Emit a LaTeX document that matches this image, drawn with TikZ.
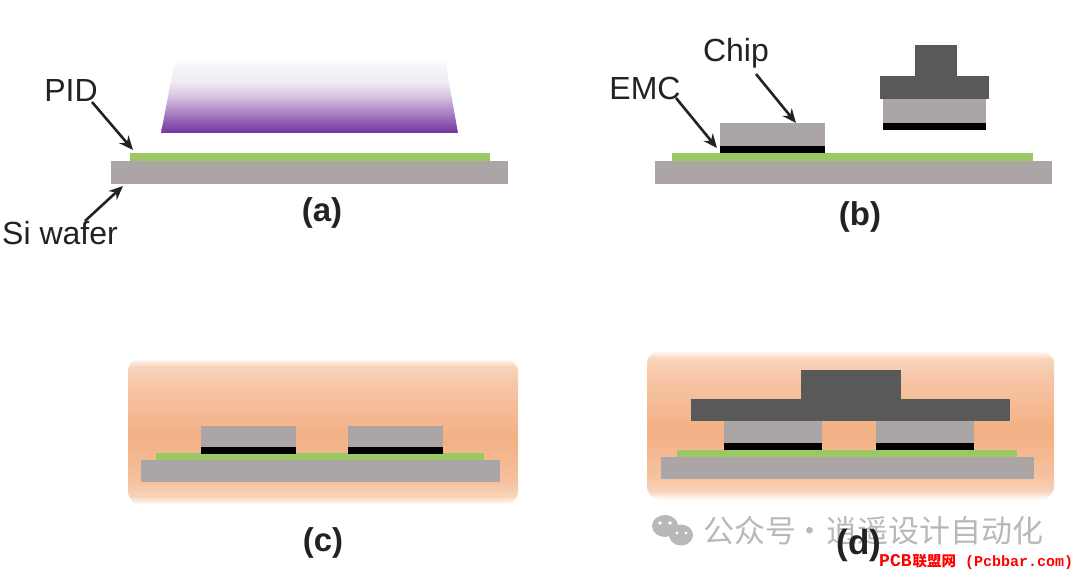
\documentclass[tikz,border=0pt]{standalone}
\usepackage{fontspec}
\setmainfont{Liberation Sans}
\newfontfamily\cjkfont{Noto Sans CJK SC}
\newfontfamily\monofont{Liberation Mono}
\usetikzlibrary{arrows.meta}
\definecolor{waferc}{HTML}{ABA6A5}
\definecolor{pidc}{HTML}{9CC863}
\definecolor{darkc}{HTML}{595959}
\definecolor{purplec}{HTML}{7434A0}
\definecolor{markc}{HTML}{B8B8B8}
\definecolor{moldc}{HTML}{F3B084}
\definecolor{labelc}{HTML}{222222}
\pgfdeclareverticalshading{exposefade}{100bp}{color(0bp)=(purplec); color(25bp)=(purplec);
  color(36bp)=(purplec!70!white); color(50bp)=(purplec!30!white); color(60bp)=(purplec!10!white);
  color(70bp)=(black!4!white); color(75bp)=(white); color(100bp)=(white)}
\pgfdeclareverticalshading{moldfade}{100bp}{color(0bp)=(white); color(25bp)=(white);
  color(28bp)=(moldc!55!white); color(33bp)=(moldc!78!white); color(48bp)=(moldc);
  color(66bp)=(moldc!72!white); color(72bp)=(moldc!55!white); color(75bp)=(white); color(100bp)=(white)}
\tikzset{
  wafer/.style={fill=waferc},
  pid/.style={fill=pidc},
  chipbody/.style={fill=waferc},
  bump/.style={fill=black},
  rdl/.style={fill=darkc},
  mold/.style={shading=moldfade, rounded corners=14pt},
  label/.style={font=\fontsize{32}{34}\selectfont, inner sep=0pt, text=labelc},
  step label/.style={font=\fontsize{33}{35}\selectfont\bfseries, inner sep=0pt, text=labelc},
  pointer/.style={-{Stealth[length=14pt,width=12pt]}, line width=2.6pt, labelc}
}
\begin{document}
\begin{tikzpicture}[x=1pt, y=-1pt]
  \useasboundingbox (0,0) rectangle (1080,575);

  % (a)
  \shade[shading=exposefade] (175,60) -- (445,60) -- (458,133) -- (161,133) -- cycle;
  \fill[pid] (130,153) rectangle (490,161);
  \fill[wafer] (111,161) rectangle (508,184);
  \node (PID) [label] at (71,90) {PID};
  \node (Si) [label] at (60,233) {Si wafer};
  \node (LA) [step label] at (322,213) {(a)};
  \coordinate (PIDend) at (133,150);
  \coordinate (Siend) at (123,186);
  \coordinate (PIDstart) at (92,102);
  \coordinate (Sistart) at (85,221);
  \draw[pointer] (PIDstart) -- (PIDend);
  \draw[pointer] (Sistart) -- (Siend);

  % (b)
  \fill[pid] (672,153) rectangle (1033,161);
  \fill[wafer] (655,161) rectangle (1052,184);
  \fill[chipbody] (720,123) rectangle (825,146);
  \fill[bump] (720,146) rectangle (825,153);
  \fill[rdl] (915,45) rectangle (957,76);
  \fill[rdl] (880,76) rectangle (989,99);
  \fill[chipbody] (883,99) rectangle (986,123);
  \fill[bump] (883,123) rectangle (986,130);
  \node (Chip) [label] at (736,53) {Chip};
  \node (EMC) [label] at (645,88) {EMC};
  \node (LB) [step label] at (860,217) {(b)};
  \coordinate (Chipstart) at (756,74);
  \coordinate (Chipend) at (796,123);
  \coordinate (EMCstart) at (676,98);
  \coordinate (EMCend) at (717,148);
  \draw[pointer] (Chipstart) -- (Chipend);
  \draw[pointer] (EMCstart) -- (EMCend);

  % (c)
  \shade[mold] (128,358) rectangle (518,505);
  \fill[pid] (156,453) rectangle (484,460);
  \fill[wafer] (141,460) rectangle (500,482);
  \foreach \x in {201,348} {
    \fill[chipbody] (\x,426) rectangle (\x+95,447);
    \fill[bump] (\x,447) rectangle (\x+95,454);
  }
  \node (LC) [step label] at (323,543) {(c)};

  % (d)
  \shade[mold] (647,350) rectangle (1054,500);
  \fill[pid] (677,450) rectangle (1017,457);
  \fill[wafer] (661,457) rectangle (1034,479);
  \foreach \x in {724,876} {
    \fill[chipbody] (\x,420) rectangle (\x+98,443);
    \fill[bump] (\x,443) rectangle (\x+98,450);
  }
  \fill[rdl] (691,399) rectangle (1010,421);
  \fill[rdl] (801,370) rectangle (901,399);

  % watermark
  \fill[markc] (665,526) ellipse (13pt and 11pt);
  \fill[markc] (681,535) ellipse (12pt and 10.5pt);
  \fill[white] (660,523) circle (1.8pt) (670,523) circle (1.8pt) (677,533) circle (1.6pt) (686,533) circle (1.6pt);
  \node (WM) [inner sep=0pt, text=markc, font=\fontsize{31}{33}\selectfont\cjkfont, anchor=west] at (703,531) {公众号\hspace{-9pt} · \hspace{-6pt}逍遥设计自动化};
  \node (LD) [step label, font=\fontsize{35}{37}\selectfont\bfseries] at (859,545) {(d)};
  \node (Site) [inner sep=0pt, text=red, font=\fontsize{15}{18}\selectfont\bfseries, anchor=west] at (879,562) {\monofont{\fontsize{18}{18}\selectfont PCB}\hspace{1pt}{\cjkfont\fontsize{14.5}{18}\selectfont 联盟网}\hspace{9pt}(Pcbbar.com)};
\end{tikzpicture}
\end{document}
